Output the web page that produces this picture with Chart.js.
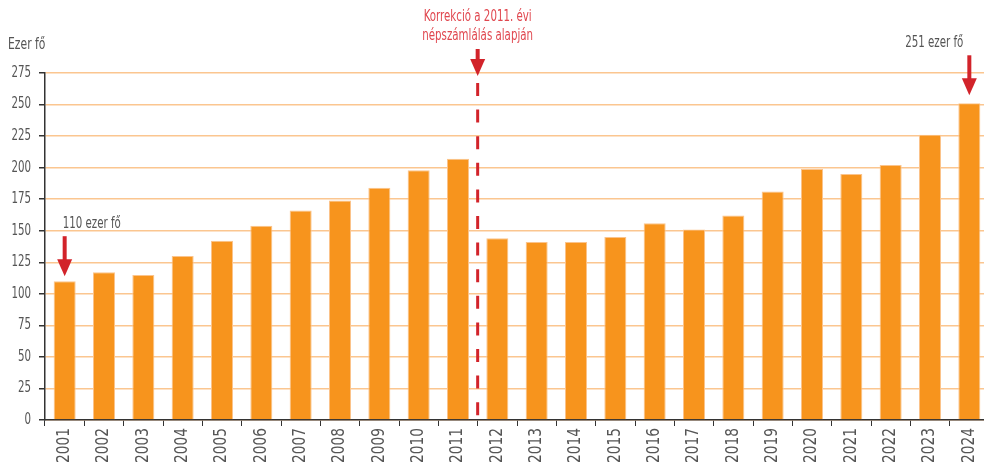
<!DOCTYPE html>
<html>
<head>
<meta charset="utf-8">
<script src="https://cdn.jsdelivr.net/npm/chart.js@4/dist/chart.umd.min.js"></script>
<style>
  html, body { margin: 0; padding: 0; background: #fff; overflow: hidden; }
  #wrap { width: 989px; height: 464px; }
</style>
</head>
<body>
<div id="wrap"><canvas id="chart" width="989" height="464"></canvas></div>
<script>
const years = ["2001", "2002", "2003", "2004", "2005", "2006", "2007", "2008", "2009", "2010", "2011", "2012",
  "2013", "2014", "2015", "2016", "2017", "2018", "2019", "2020", "2021", "2022", "2023", "2024"];
const people = [110, 117, 115, 130, 142, 154, 166, 174, 184, 198, 207, 144,
  141, 141, 145, 156, 151, 162, 181, 199, 195, 202, 226, 251];
const yMax = 275;
const yStep = 25;
const unitLabel = "Ezer fő";
const firstNote = "110 ezer fő";
const lastNote = "251 ezer fő";
const breakNote = ["Korrekció a 2011. évi", "népszámlálás alapján"];
const breakAfter = 10; // index of 2011, break drawn after it

const FONT = '"Liberation Sans Narrow", "DejaVu Sans Condensed", "Roboto", sans-serif';
const RED = "#d2232a";
const TEXT = "#555";

// text drawn narrower along its own direction (the original face is very narrow)
function squeezed(ctx, str, x, y, align, angle, k) {
  ctx.save();
  ctx.translate(x, y);
  if (angle) ctx.rotate(angle);
  ctx.scale(k || 0.76, 1);
  ctx.textAlign = align;
  ctx.fillText(str, 0, 0);
  ctx.restore();
}

function drawArrow(ctx, cx, tipY, len) {
  ctx.save();
  ctx.fillStyle = RED;
  ctx.strokeStyle = RED;
  ctx.lineWidth = 4;
  ctx.beginPath();
  ctx.moveTo(cx, tipY - len);
  ctx.lineTo(cx, tipY - 14);
  ctx.stroke();
  ctx.beginPath();
  ctx.moveTo(cx - 7.5, tipY - 17);
  ctx.lineTo(cx + 7.5, tipY - 17);
  ctx.lineTo(cx, tipY);
  ctx.closePath();
  ctx.fill();
  ctx.restore();
}

const notes = {
  id: "notes",
  afterDraw(chart) {
    const { ctx, scales: { x, y } } = chart;
    ctx.save();
    ctx.fillStyle = TEXT;
    ctx.textBaseline = "middle";

    // axis labels
    ctx.font = "17px " + FONT;
    years.forEach((yr, i) => {
      squeezed(ctx, yr, x.getPixelForValue(i), 428, "right", -Math.PI / 2, 0.9);
    });
    ctx.font = "15px " + FONT;
    y.ticks.forEach((t) => {
      squeezed(ctx, String(t.value), 31, y.getPixelForValue(t.value), "right");
    });
    squeezed(ctx, unitLabel, 8, 45, "left", 0, 0.8);

    // first year
    const x0 = x.getPixelForValue(0);
    const top0 = y.getPixelForValue(people[0]);
    drawArrow(ctx, x0, top0 - 5, 40);
    squeezed(ctx, firstNote, x0 - 2, top0 - 57, "left");

    // last year
    const last = people.length - 1;
    const xl = x.getPixelForValue(last);
    const topl = y.getPixelForValue(people[last]);
    drawArrow(ctx, xl, topl - 8, 40);
    squeezed(ctx, lastNote, xl - 6, topl - 60, "right");

    // census break
    const xb = x.getPixelForValue(breakAfter + 0.5);
    const yTop = y.getPixelForValue(yMax);
    drawArrow(ctx, xb, yTop + 3, 27);
    ctx.strokeStyle = RED;
    ctx.lineWidth = 3;
    ctx.setLineDash([13, 13.6]);
    ctx.beginPath();
    ctx.moveTo(xb, yTop + 10);
    ctx.lineTo(xb, y.getPixelForValue(0) - 2);
    ctx.stroke();
    ctx.setLineDash([]);
    ctx.fillStyle = "#e0474f";
    squeezed(ctx, breakNote[0], xb, 17, "center");
    squeezed(ctx, breakNote[1], xb, 36, "center");
    ctx.restore();
  }
};

new Chart(document.getElementById("chart"), {
  type: "bar",
  data: {
    labels: years,
    datasets: [{
      data: people,
      backgroundColor: "#f7941d",
      borderColor: "#fbc48c",
      borderWidth: 1,
      barPercentage: 0.56,
      categoryPercentage: 1
    }]
  },
  options: {
    responsive: false,
    animation: false,
    layout: { padding: { top: 73, right: 0, left: 0, bottom: 0 } },
    plugins: { legend: { display: false }, tooltip: { enabled: false } },
    scales: {
      x: {
        afterFit: (s) => { s.height = 44; },
        grid: { drawOnChartArea: false, offset: true, tickLength: 6, tickColor: "#333" },
        border: { color: "#333", width: 1.5 },
        ticks: { display: false }
      },
      y: {
        min: 0, max: yMax,
        afterFit: (s) => { s.width = 45; },
        grid: { color: "#fbc690", lineWidth: 1.5, tickLength: 6, tickColor: "#333" },
        border: { color: "#333", width: 1.5 },
        ticks: { stepSize: yStep, display: false }
      }
    }
  },
  plugins: [notes]
});
</script>
</body>
</html>
